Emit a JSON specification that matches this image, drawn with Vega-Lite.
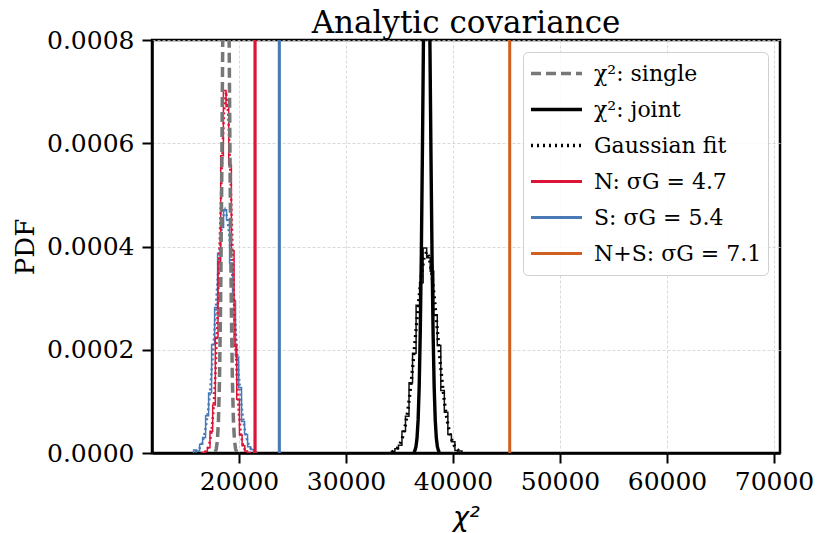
{
  "$schema": "https://vega.github.io/schema/vega-lite/v6.json",
  "width": 628,
  "height": 413,
  "autosize": {"type": "none"},
  "padding": {"left": 152, "top": 40, "right": 39, "bottom": 80},
  "background": "white",
  "title": {"text": "Analytic covariance", "font": "DejaVu Serif", "fontSize": 31, "fontWeight": "normal", "color": "black", "offset": -12, "anchor": "middle"},
  "config": {
    "view": {"stroke": "black", "strokeWidth": 2.5},
    "axis": {
      "labelFont": "DejaVu Serif", "labelFontSize": 25, "labelColor": "black",
      "titleFont": "DejaVu Serif", "titleFontSize": 26, "titleFontWeight": "normal", "titleColor": "black",
      "domainColor": "black", "domainWidth": 2.5,
      "tickColor": "black", "tickWidth": 2, "tickSize": 10,
      "gridColor": "#cfcfcf", "gridDash": [3, 2], "gridWidth": 0.8, "labelPadding": 6
    },
    "legend": {
      "orient": "top-right", "offset": 12, "labelFont": "DejaVu Serif", "labelFontSize": 22, "labelColor": "black",
      "symbolType": "stroke", "symbolSize": 2600, "strokeColor": "#d0d0d0", "fillColor": "rgba(255,255,255,0.85)",
      "cornerRadius": 5, "padding": 6, "rowPadding": 5, "clipHeight": 31, "labelOffset": 10, "labelLimit": 400
    }
  },
  "datasets": {
    "legendLines": [
      {"series": "χ²: single", "x": 17780, "y": 0.0000024},
      {"series": "χ²: single", "x": 17880, "y": 0.0000081},
      {"series": "χ²: single", "x": 17980, "y": 0.000024},
      {"series": "χ²: single", "x": 18080, "y": 0.0000624},
      {"series": "χ²: single", "x": 18180, "y": 0.000143},
      {"series": "χ²: single", "x": 18280, "y": 0.000288},
      {"series": "χ²: single", "x": 18380, "y": 0.000512},
      {"series": "χ²: single", "x": 18480, "y": 0.0008},
      {"series": "χ²: single", "x": 18580, "y": 0.0011},
      {"series": "χ²: single", "x": 18680, "y": 0.001332},
      {"series": "χ²: single", "x": 18780, "y": 0.00142},
      {"series": "χ²: single", "x": 18880, "y": 0.001332},
      {"series": "χ²: single", "x": 18980, "y": 0.0011},
      {"series": "χ²: single", "x": 19080, "y": 0.0008},
      {"series": "χ²: single", "x": 19180, "y": 0.000512},
      {"series": "χ²: single", "x": 19280, "y": 0.000288},
      {"series": "χ²: single", "x": 19380, "y": 0.000143},
      {"series": "χ²: single", "x": 19480, "y": 0.0000624},
      {"series": "χ²: single", "x": 19580, "y": 0.000024},
      {"series": "χ²: single", "x": 19680, "y": 0.0000081},
      {"series": "χ²: single", "x": 19780, "y": 0.0000024},
      {"series": "χ²: joint", "x": 36340, "y": 0.0000016},
      {"series": "χ²: joint", "x": 36440, "y": 0.0000047},
      {"series": "χ²: joint", "x": 36540, "y": 0.0000123},
      {"series": "χ²: joint", "x": 36640, "y": 0.0000294},
      {"series": "χ²: joint", "x": 36740, "y": 0.0000641},
      {"series": "χ²: joint", "x": 36840, "y": 0.000128},
      {"series": "χ²: joint", "x": 36940, "y": 0.000232},
      {"series": "χ²: joint", "x": 37040, "y": 0.000384},
      {"series": "χ²: joint", "x": 37140, "y": 0.00058},
      {"series": "χ²: joint", "x": 37240, "y": 0.000801},
      {"series": "χ²: joint", "x": 37340, "y": 0.001007},
      {"series": "χ²: joint", "x": 37440, "y": 0.001156},
      {"series": "χ²: joint", "x": 37540, "y": 0.00121},
      {"series": "χ²: joint", "x": 37640, "y": 0.001156},
      {"series": "χ²: joint", "x": 37740, "y": 0.001007},
      {"series": "χ²: joint", "x": 37840, "y": 0.000801},
      {"series": "χ²: joint", "x": 37940, "y": 0.00058},
      {"series": "χ²: joint", "x": 38040, "y": 0.000384},
      {"series": "χ²: joint", "x": 38140, "y": 0.000232},
      {"series": "χ²: joint", "x": 38240, "y": 0.000128},
      {"series": "χ²: joint", "x": 38340, "y": 0.0000641},
      {"series": "χ²: joint", "x": 38440, "y": 0.0000294},
      {"series": "χ²: joint", "x": 38540, "y": 0.0000123},
      {"series": "χ²: joint", "x": 38640, "y": 0.0000047},
      {"series": "χ²: joint", "x": 38740, "y": 0.0000016},
      {"series": "Gaussian fit", "x": 34290, "y": 0.0000019},
      {"series": "Gaussian fit", "x": 34540, "y": 0.0000043},
      {"series": "Gaussian fit", "x": 34790, "y": 0.0000089},
      {"series": "Gaussian fit", "x": 35040, "y": 0.0000171},
      {"series": "Gaussian fit", "x": 35290, "y": 0.000031},
      {"series": "Gaussian fit", "x": 35540, "y": 0.0000528},
      {"series": "Gaussian fit", "x": 35790, "y": 0.0000843},
      {"series": "Gaussian fit", "x": 36040, "y": 0.000127},
      {"series": "Gaussian fit", "x": 36290, "y": 0.000179},
      {"series": "Gaussian fit", "x": 36540, "y": 0.000237},
      {"series": "Gaussian fit", "x": 36790, "y": 0.000294},
      {"series": "Gaussian fit", "x": 37040, "y": 0.000344},
      {"series": "Gaussian fit", "x": 37290, "y": 0.000378},
      {"series": "Gaussian fit", "x": 37540, "y": 0.00039},
      {"series": "Gaussian fit", "x": 37790, "y": 0.000378},
      {"series": "Gaussian fit", "x": 38040, "y": 0.000344},
      {"series": "Gaussian fit", "x": 38290, "y": 0.000294},
      {"series": "Gaussian fit", "x": 38540, "y": 0.000237},
      {"series": "Gaussian fit", "x": 38790, "y": 0.000179},
      {"series": "Gaussian fit", "x": 39040, "y": 0.000127},
      {"series": "Gaussian fit", "x": 39290, "y": 0.0000843},
      {"series": "Gaussian fit", "x": 39540, "y": 0.0000528},
      {"series": "Gaussian fit", "x": 39790, "y": 0.000031},
      {"series": "Gaussian fit", "x": 40040, "y": 0.0000171},
      {"series": "Gaussian fit", "x": 40290, "y": 0.0000089},
      {"series": "Gaussian fit", "x": 40540, "y": 0.0000043},
      {"series": "Gaussian fit", "x": 40790, "y": 0.0000019},
      {"series": "N: σG = 4.7", "x": 21500, "y": 0},
      {"series": "N: σG = 4.7", "x": 21500, "y": 0.0008},
      {"series": "S: σG = 5.4", "x": 23770, "y": 0},
      {"series": "S: σG = 5.4", "x": 23770, "y": 0.0008},
      {"series": "N+S: σG = 7.1", "x": 45300, "y": 0},
      {"series": "N+S: σG = 7.1", "x": 45300, "y": 0.0008}
    ],
    "blackHist": [
      {"x": 34239, "y": 0}, {"x": 34240, "y": 0.000003}, {"x": 34570, "y": 0.000008}, {"x": 34900, "y": 0.000015},
      {"x": 35230, "y": 0.000042}, {"x": 35560, "y": 0.000071}, {"x": 35890, "y": 0.000136}, {"x": 36220, "y": 0.000193},
      {"x": 36550, "y": 0.000286}, {"x": 36880, "y": 0.00033}, {"x": 37210, "y": 0.000397}, {"x": 37540, "y": 0.000378},
      {"x": 37870, "y": 0.000352}, {"x": 38200, "y": 0.000268}, {"x": 38530, "y": 0.000208}, {"x": 38860, "y": 0.000121},
      {"x": 39190, "y": 0.000079}, {"x": 39520, "y": 0.000036}, {"x": 39850, "y": 0.000022}, {"x": 40180, "y": 0.000005},
      {"x": 40510, "y": 0.000004}, {"x": 40840, "y": 0}
    ],
    "redHist": [
      {"x": 16539, "y": 0}, {"x": 16540, "y": 0.000001}, {"x": 16790, "y": 0.000003}, {"x": 17040, "y": 0.00001},
      {"x": 17290, "y": 0.000042}, {"x": 17540, "y": 0.000093}, {"x": 17790, "y": 0.000224}, {"x": 18040, "y": 0.000371},
      {"x": 18290, "y": 0.000576}, {"x": 18540, "y": 0.000702}, {"x": 18790, "y": 0.000671}, {"x": 19040, "y": 0.000558},
      {"x": 19290, "y": 0.000392}, {"x": 19540, "y": 0.000207}, {"x": 19790, "y": 0.000104}, {"x": 20040, "y": 0.000035},
      {"x": 20290, "y": 0.000014}, {"x": 20540, "y": 0.000004}, {"x": 20790, "y": 0.000001}, {"x": 21040, "y": 0}
    ],
    "blueHist": [
      {"x": 15759, "y": 0}, {"x": 15760, "y": 0.000006}, {"x": 16040, "y": 0.000004}, {"x": 16320, "y": 0.000017},
      {"x": 16600, "y": 0.00003}, {"x": 16880, "y": 0.000072}, {"x": 17160, "y": 0.000116}, {"x": 17440, "y": 0.00021},
      {"x": 17720, "y": 0.000282}, {"x": 18000, "y": 0.000387}, {"x": 18280, "y": 0.000437}, {"x": 18560, "y": 0.000471},
      {"x": 18840, "y": 0.000452}, {"x": 19120, "y": 0.000368}, {"x": 19400, "y": 0.000295}, {"x": 19680, "y": 0.000186},
      {"x": 19960, "y": 0.000127}, {"x": 20240, "y": 0.000061}, {"x": 20520, "y": 0.000036}, {"x": 20800, "y": 0.000012},
      {"x": 21080, "y": 0.000007}, {"x": 21360, "y": 0.000002}, {"x": 21640, "y": 0}
    ],
    "redFit": [
      {"x": 16790, "y": 0.0000015}, {"x": 16990, "y": 0.0000048}, {"x": 17190, "y": 0.0000136}, {"x": 17390, "y": 0.0000343},
      {"x": 17590, "y": 0.0000763}, {"x": 17790, "y": 0.00015}, {"x": 17990, "y": 0.000261}, {"x": 18190, "y": 0.000402},
      {"x": 18390, "y": 0.000547}, {"x": 18590, "y": 0.000658}, {"x": 18790, "y": 0.0007}, {"x": 18990, "y": 0.000658},
      {"x": 19190, "y": 0.000547}, {"x": 19390, "y": 0.000402}, {"x": 19590, "y": 0.000261}, {"x": 19790, "y": 0.00015},
      {"x": 19990, "y": 0.0000763}, {"x": 20190, "y": 0.0000343}, {"x": 20390, "y": 0.0000136}, {"x": 20590, "y": 0.0000048},
      {"x": 20790, "y": 0.0000015}
    ],
    "blueFit": [
      {"x": 15900, "y": 0.0000021}, {"x": 16100, "y": 0.0000044}, {"x": 16300, "y": 0.0000087}, {"x": 16500, "y": 0.0000165},
      {"x": 16700, "y": 0.0000295}, {"x": 16900, "y": 0.0000499}, {"x": 17100, "y": 0.00008}, {"x": 17300, "y": 0.000121},
      {"x": 17500, "y": 0.000173}, {"x": 17700, "y": 0.000235}, {"x": 17900, "y": 0.000302}, {"x": 18100, "y": 0.000366},
      {"x": 18300, "y": 0.000421}, {"x": 18500, "y": 0.000457}, {"x": 18700, "y": 0.00047}, {"x": 18900, "y": 0.000457},
      {"x": 19100, "y": 0.000421}, {"x": 19300, "y": 0.000366}, {"x": 19500, "y": 0.000302}, {"x": 19700, "y": 0.000235},
      {"x": 19900, "y": 0.000173}, {"x": 20100, "y": 0.000121}, {"x": 20300, "y": 0.00008}, {"x": 20500, "y": 0.0000499},
      {"x": 20700, "y": 0.0000295}, {"x": 20900, "y": 0.0000165}, {"x": 21100, "y": 0.0000087}, {"x": 21300, "y": 0.0000044},
      {"x": 21500, "y": 0.0000021}
    ]
  },
  "encoding": {
    "x": {
      "field": "x", "type": "quantitative",
      "scale": {"domain": [11870, 70560], "nice": false, "zero": false},
      "axis": {"title": "χ²", "titleFont": "DejaVu Sans", "titleFontStyle": "italic", "titleFontSize": 27, "values": [20000, 30000, 40000, 50000, 60000, 70000], "format": "d", "titlePadding": 10}
    },
    "y": {
      "field": "y", "type": "quantitative",
      "scale": {"domain": [0, 0.0008], "nice": false},
      "axis": {"title": "PDF", "values": [0, 0.0002, 0.0004, 0.0006, 0.0008], "format": ".4f", "titlePadding": 8, "labelPadding": 8}
    }
  },
  "layer": [
    {
      "data": {"name": "blueHist"},
      "mark": {"type": "line", "interpolate": "step-after", "clip": true, "color": "#4a7ab5", "strokeWidth": 1.5}
    },
    {
      "data": {"name": "blueFit"},
      "mark": {"type": "line", "clip": true, "color": "#4a7ab5", "strokeWidth": 2.5, "strokeDash": [2, 3]}
    },
    {
      "data": {"name": "redHist"},
      "mark": {"type": "line", "interpolate": "step-after", "clip": true, "color": "#dc1438", "strokeWidth": 1.5}
    },
    {
      "data": {"name": "redFit"},
      "mark": {"type": "line", "clip": true, "color": "#dc1438", "strokeWidth": 2.5, "strokeDash": [2, 3]}
    },
    {
      "data": {"name": "blackHist"},
      "mark": {"type": "line", "interpolate": "step-after", "clip": true, "color": "#111111", "strokeWidth": 1.5}
    },
    {
      "data": {"name": "legendLines"},
      "mark": {"type": "line", "clip": true},
      "encoding": {
        "color": {
          "field": "series", "type": "nominal",
          "scale": {"domain": ["χ²: single", "χ²: joint", "Gaussian fit", "N: σG = 4.7", "S: σG = 5.4", "N+S: σG = 7.1"],
                    "range": ["#777777", "#000000", "#000000", "#dc1438", "#4a7ab5", "#d0601f"]},
          "legend": {"title": null}
        },
        "strokeDash": {
          "field": "series", "type": "nominal",
          "scale": {"domain": ["χ²: single", "χ²: joint", "Gaussian fit", "N: σG = 4.7", "S: σG = 5.4", "N+S: σG = 7.1"],
                    "range": [[10, 5], [1, 0], [2, 4], [1, 0], [1, 0], [1, 0]]},
          "legend": {"title": null}
        },
        "strokeWidth": {
          "field": "series", "type": "nominal",
          "scale": {"domain": ["χ²: single", "χ²: joint", "Gaussian fit", "N: σG = 4.7", "S: σG = 5.4", "N+S: σG = 7.1"],
                    "range": [3.5, 3, 2.5, 3, 3, 5.5]},
          "legend": {"title": null}
        }
      }
    }
  ]
}
